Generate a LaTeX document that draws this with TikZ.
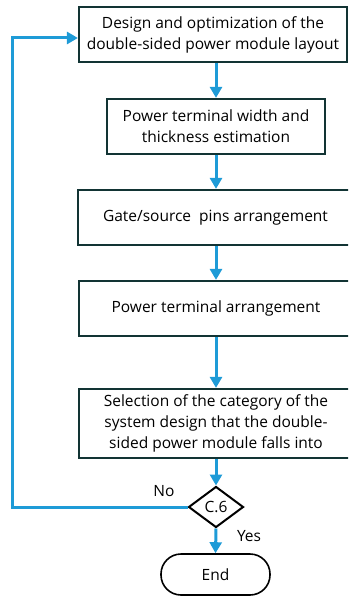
\documentclass[tikz,border=0pt]{standalone}
\usepackage{fontspec}
\setmainfont{Open Sans}
\usetikzlibrary{arrows.meta,shapes.geometric}
\definecolor{flowblue}{HTML}{1E9BD7}
\definecolor{boxline}{HTML}{123434}
\begin{document}
\begin{tikzpicture}[x=1pt,y=-1pt,
  every node/.style={font=\fontsize{15.5}{21}\selectfont, text=black},
  stepbox/.style={draw=boxline, line width=2.2pt, fill=white, align=center, inner sep=0pt},
  flow/.style={draw=flowblue, line width=3pt, -{Triangle[width=12pt,length=11pt]}},
  plain/.style={draw=flowblue, line width=3pt}]
\useasboundingbox (0,0) rectangle (348,599);
\begin{scope}
\clip (0,0) rectangle (348,599);
\node[stepbox, minimum width=268pt, minimum height=55pt] (b1) at (213,34.5) {Design and optimization of the\\double-sided power module layout};
\node[stepbox, minimum width=218pt, minimum height=55pt] (b2) at (216,126.5) {Power terminal width and\\thickness estimation};
\node[stepbox, minimum width=275pt, minimum height=55pt] (b3) at (215.5,217.5) {Gate/source\ \ pins arrangement};
\node[stepbox, minimum width=274pt, minimum height=55pt] (b4) at (216,308.5) {Power terminal arrangement};
\node[stepbox, minimum width=274pt, minimum height=69pt] (b5) at (216,423.5) {Selection of the category of the\\system design that the double-\\sided power module falls into};
\node[diamond, draw=black, line width=2pt, minimum width=55pt, minimum height=41pt, inner sep=0pt] (d) at (216,507) {C.6};
\node[draw=black, line width=1.6pt, rounded corners=20pt, minimum width=109pt, minimum height=41pt, inner sep=0pt] (e) at (215.5,574.5) {End};
\end{scope}
\coordinate (l1) at (12,507);
\coordinate (l2) at (12,38);
\draw[flow] (b1.south -| d) -- (b2.north -| d);
\draw[flow] (b2.south -| d) -- (b3.north -| d);
\draw[flow] (b3.south -| d) -- (b4.north -| d);
\draw[flow] (b4.south -| d) -- (b5.north -| d);
\draw[flow] (b5.south -| d) -- (d.north);
\draw[flow] (d.south) -- (e.north);
\draw[flow] (d.west) -- (l1) -- (l2) -- (l2 -| b1.west);
\node (no) at (164,491) {No};
\node (yes) at (249,536) {Yes};
\end{tikzpicture}
\end{document}
